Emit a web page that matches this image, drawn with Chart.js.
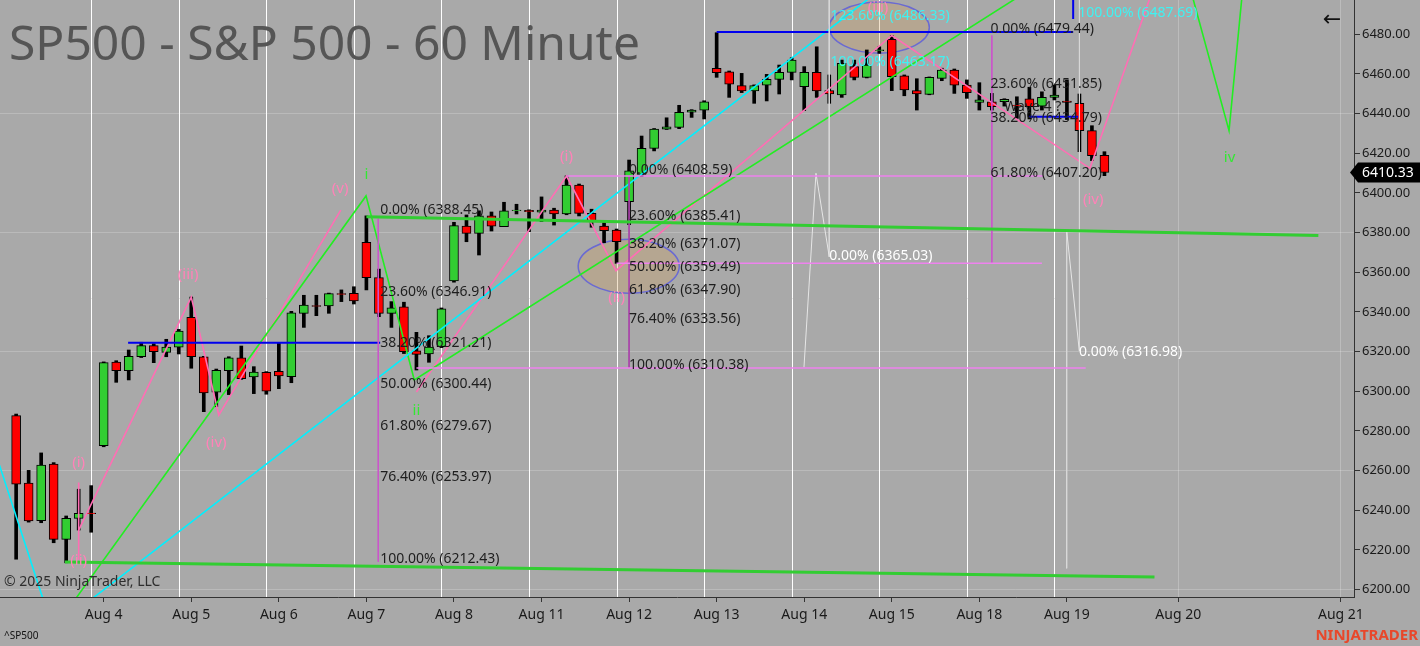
<!DOCTYPE html>
<html>
<head>
<meta charset="utf-8">
<script src="https://cdn.jsdelivr.net/npm/chart.js@4.4.1/dist/chart.umd.min.js"></script>
<style>
html, body { margin: 0; padding: 0; background: #a9a9a9; }
#wrap { width: 1420px; height: 646px; position: relative; }
</style>
</head>
<body>
<div id="wrap"><canvas id="chart"></canvas></div>
<script>
// hourly bars, index 0 = first bar of Aug 1
const barOpen = [6287.7,6253.7,6234.7,6263.3,6225.3,6235.9,6238.6, 6272.5,6314.7,6310.4,6317.4,6323.0,6319.6,6322.2,
  6337.3,6317.4,6299.5,6310.4,6316.9,6307.2,6309.6, 6310.1,6307.3,6339.3,6343.2,6343.0,6349.2,6349.4,
  6375.1,6357.3,6339.3,6342.6,6320.4,6318.8,6322.5, 6355.6,6383.3,6379.6,6388.5,6383.0,6391.0,6391.2,
  6390.3,6391.4,6389.4,6404.0,6389.7,6383.3,6381.3, 6395.6,6409.4,6422.5,6432.2,6433.1,6440.7,6441.8,
  6462.9,6461.1,6454.1,6451.4,6454.4,6457.3,6460.8, 6453.6,6460.8,6451.6,6449.4,6463.7,6458.3,6471.8,
  6477.5,6459.0,6451.6,6449.7,6457.8,6462.0,6454.4, 6445.7,6446.0,6446.0,6444.2,6447.4,6443.8,6448.2,
  6446.3,6445.2,6431.4,6419.0];
const barHigh = [6288.5,6260.1,6268.9,6264.0,6237.1,6250.6,6252.4, 6314.8,6315.4,6320.8,6324.7,6324.0,6326.2,6331.2,
  6347.5,6317.6,6311.2,6317.4,6322.8,6312.4,6309.9, 6324.2,6340.3,6348.4,6348.4,6349.5,6351.1,6352.7,
  6388.45,6361.6,6345.2,6344.9,6329.7,6328.0,6342.0, 6385.2,6388.9,6391.0,6390.4,6395.3,6394.3,6391.5,
  6398.0,6392.3,6408.6,6404.5,6391.8,6386.0,6381.8, 6416.6,6428.7,6432.5,6437.9,6444.2,6442.0,6446.5,
  6480.8,6461.5,6460.3,6454.5,6459.8,6464.5,6468.2, 6463.7,6473.7,6459.5,6467.0,6467.0,6472.1,6473.7,
  6479.44,6459.5,6457.6,6458.5,6462.9,6462.5,6457.0, 6455.6,6450.2,6447.5,6448.5,6453.3,6451.0,6454.4,
  6457.0,6449.9,6433.9,6420.8];
const barLow = [6215.3,6234.0,6233.7,6223.6,6213.5,6230.0,6228.9, 6272.0,6304.5,6305.7,6317.0,6314.4,6317.4,6318.8,
  6311.6,6289.7,6292.2,6298.3,6306.0,6298.8,6298.5, 6301.3,6304.3,6332.2,6338.1,6339.3,6345.2,6344.0,
  6351.1,6337.6,6332.2,6319.0,6310.7,6314.6,6322.0, 6355.0,6375.4,6368.7,6380.8,6383.0,6389.4,6380.5,
  6385.5,6383.8,6389.0,6388.4,6382.7,6374.9,6364.5, 6384.0,6408.2,6421.2,6432.0,6432.4,6438.1,6437.3,
  6458.3,6448.2,6450.6,6445.2,6446.4,6449.9,6457.0, 6441.5,6448.2,6445.2,6448.2,6457.0,6458.0,6470.4,
  6451.6,6449.0,6441.8,6449.5,6456.6,6450.2,6447.7, 6441.8,6441.8,6443.8,6437.6,6437.3,6441.8,6446.9,
  6437.0,6420.8,6416.3,6408.7];
const barClose = [6253.2,6234.6,6262.8,6225.3,6235.9,6238.4,6238.2, 6314.4,6310.4,6317.6,6323.0,6320.0,6322.3,6330.4,
  6317.4,6299.1,6310.6,6316.9,6306.3,6309.7,6300.0, 6307.7,6339.6,6343.5,6342.8,6349.2,6348.8,6345.5,
  6357.3,6339.3,6342.1,6319.9,6318.6,6322.3,6341.5, 6383.5,6379.6,6388.5,6383.3,6391.0,6391.4,6390.5,
  6391.4,6389.4,6404.0,6389.7,6386.0,6381.0,6375.4, 6411.2,6422.5,6432.2,6433.4,6440.7,6441.8,6446.0,
  6460.6,6454.9,6451.4,6454.1,6457.3,6460.8,6467.0, 6460.8,6451.4,6449.9,6465.4,6458.3,6464.5,6472.2,
  6458.6,6451.9,6449.9,6458.3,6462.0,6454.4,6450.6, 6446.9,6443.5,6447.2,6443.9,6443.5,6448.2,6449.4,
  6445.7,6431.4,6418.8,6410.33];

const tickIdx = [7,14,21,28,35,42,49,56,63,70,77,84,92.9,105.9];
const tickLabels = ['Aug 4','Aug 5','Aug 6','Aug 7','Aug 8','Aug 11','Aug 12','Aug 13','Aug 14','Aug 15','Aug 18','Aug 19','Aug 20','Aug 21'];
const sessionEnds = [6,13,20,27,34,41,48,55,62,69,76,83];
const yTicks = [6200,6220,6240,6260,6280,6300,6320,6340,6360,6380,6400,6420,6440,6460,6480];
const yGridLevels = [6200,6260,6320,6380,6440];

// fibonacci tools
const fibPcts = [0, 23.6, 38.2, 50, 61.8, 76.4, 100];
const fibA = [6388.45, 6346.91, 6321.21, 6300.44, 6279.67, 6253.97, 6212.43];
const fibB = [6408.59, 6385.41, 6371.07, 6359.49, 6347.90, 6333.56, 6310.38];
const fibCPcts = [0, 23.6, 38.2, 61.8];
const fibC = [6479.44, 6451.85, 6434.79, 6407.20];
const extPcts = [123.6, 100, 100];
const extLevels = [6486.33, 6463.17, 6487.69];
const extIdx = [65.1, 65.1, 84.9];
const zeroLevels = [6365.03, 6316.98];
const zeroIdx = [65.0, 84.96];

// elliott wave labels
const pinkWaveText = ['(i)','(ii)','(iii)','(iv)','(v)','(i)','(ii)','(iii)','(iv)'];
const pinkWaveIdx = [5.0, 5.0, 13.75, 16.0, 25.9, 44.0, 48.0, 68.9, 86.1];
const pinkWaveVal = [6263.9, 6214.4, 6358.6, 6273.9, 6402.0, 6418.2, 6347.1, 6493.3, 6396.4];
const greenWaveText = ['i','ii','iv'];
const greenWaveIdx = [28, 32, 97];
const greenWaveVal = [6409.0, 6290.1, 6417.6];

// drawn lines [bar index, price]
const pinkWave1 = [[5,6230],[14,6347.5],[16.2,6288],[25.95,6391.3]];
const pinkTick = [[5,6254],[5,6215]];
const pinkWave2 = [[32,6299.6],[44,6408.5],[47.95,6360.8],[70,6479.4],[85.84,6412.4],[91.4,6512]];
const greenWave1 = [[4.1,6189.6],[27.97,6398.5],[31.83,6305.7],[82.9,6510]];
const greenWave2 = [[93.56,6510],[96.96,6431.4],[98.16,6510]];
const cyanLine1 = [[-1.69,6269.7],[2.44,6189.6]];
const cyanLine2 = [[4.89,6189.6],[70.6,6509.9]];
const greenTrendTop = [[28,6388.0],[104.1,6378.5]];
const greenTrendBottom = [[3.9,6213.9],[91.0,6206.3]];
const blueLine1 = [[8.95,6324.4],[29.1,6324.4]];
const blueLine2 = [[56,6481.2],[84.5,6481.2]];
const blueLine3 = [[84.5,6500],[84.5,6487.7]];
const blueLine4 = [[81.0,6438.4],[84.9,6438.4]];
const violet1 = [[44,6408.5],[82.1,6408.5]];
const violet2 = [[48,6364.5],[82.0,6364.5]];
const violet3 = [[32,6311.7],[85.5,6311.7]];
const violetV1 = [[28.95,6387],[28.95,6214]];
const violetV2 = [[49.0,6408.6],[49.0,6311.7]];
const violetV3 = [[78.0,6479.4],[78.0,6364.5]];
const grayZig1 = [[62.98,6312.1],[63.94,6409.9],[65.0,6367.8]];
const grayV1 = [[65.0,6500],[65.0,6367.8]];
const grayZig2 = [[83.98,6381],[84.99,6320.4]];
const grayV2 = [[83.98,6381],[83.98,6210.7]];
const grayV3 = [[85.0,6500],[85.0,6320.4]];

// ellipses: center idx, center price, radius idx, radius price
const ellipseIdx = [48.97, 69.0];
const ellipseVal = [6363.0, 6483.4];
const ellipseRIdx = [4.04, 4.0];
const ellipseRVal = [13.6, 12.9];

const FONT = '"Noto Sans", "Open Sans", sans-serif';

function lineSet(points, color, width) {
  return {
    type: 'line',
    data: points.map(p => ({ x: p[0], y: p[1] })),
    borderColor: color,
    borderWidth: width,
    pointRadius: 0,
    fill: false,
    tension: 0,
    order: 0
  };
}

const overlay = {
  id: 'ntOverlay',
  beforeDatasetsDraw(chart) {
    const { ctx, chartArea: a, scales: { x, y } } = chart;
    ctx.save();
    ctx.beginPath();
    ctx.rect(a.left, a.top, a.right - a.left, a.bottom - a.top);
    ctx.clip();
    // session separators
    ctx.strokeStyle = '#ffffff';
    ctx.lineWidth = 1;
    sessionEnds.forEach(i => {
      const px = Math.round(x.getPixelForValue(i)) + 0.5;
      ctx.beginPath();
      ctx.moveTo(px, a.top);
      ctx.lineTo(px, a.bottom);
      ctx.stroke();
    });
    // title
    ctx.fillStyle = '#555555';
    ctx.font = '48px ' + FONT;
    ctx.textBaseline = 'middle';
    ctx.textAlign = 'left';
    ctx.fillText('SP500 - S&P 500 - 60 Minute', 9, 46);
    // ellipses
    ellipseIdx.forEach((ci, k) => {
      const cx = x.getPixelForValue(ci);
      const cy = y.getPixelForValue(ellipseVal[k]);
      const rx = Math.abs(x.getPixelForValue(ci + ellipseRIdx[k]) - cx);
      const ry = Math.abs(y.getPixelForValue(ellipseVal[k] + ellipseRVal[k]) - cy);
      ctx.beginPath();
      ctx.ellipse(cx, cy, rx, ry, 0, 0, Math.PI * 2);
      ctx.fillStyle = 'rgba(210,160,90,0.3)';
      ctx.fill();
      ctx.strokeStyle = '#6a6ad2';
      ctx.lineWidth = 1.5;
      ctx.stroke();
    });
    ctx.restore();
  },
  afterDatasetsDraw(chart) {
    const { ctx, scales: { x, y } } = chart;
    ctx.save();
    ctx.textAlign = 'left';
    ctx.textBaseline = 'middle';
    ctx.font = '14px ' + FONT;
    const fibText = (p, v) => p.toFixed(2) + '% (' + v.toFixed(2) + ')';
    const put = (txt, idx, val, color) => {
      ctx.fillStyle = color;
      ctx.fillText(txt, x.getPixelForValue(idx), y.getPixelForValue(val) - 6);
    };
    fibA.forEach((v, k) => put(fibText(fibPcts[k], v), 29.1, v, '#1e1e1e'));
    fibB.forEach((v, k) => put(fibText(fibPcts[k], v), 49.0, v, '#1e1e1e'));
    fibC.forEach((v, k) => put(fibText(fibCPcts[k], v), 77.9, v, '#1e1e1e'));
    extLevels.forEach((v, k) => put(fibText(extPcts[k], v), extIdx[k], v, '#3ff2f2'));
    zeroLevels.forEach((v, k) => put(fibText(0, v), zeroIdx[k], v, '#ffffff'));
    ctx.fillStyle = '#1e1e1e';
    ctx.fillText('Wave 4 ?', x.getPixelForValue(79.0), y.getPixelForValue(6443.5));

    ctx.textAlign = 'center';
    ctx.font = '15px ' + FONT;
    ctx.fillStyle = '#ff82b8';
    pinkWaveText.forEach((t, k) => ctx.fillText(t, x.getPixelForValue(pinkWaveIdx[k]), y.getPixelForValue(pinkWaveVal[k])));
    ctx.fillStyle = '#33e833';
    greenWaveText.forEach((t, k) => ctx.fillText(t, x.getPixelForValue(greenWaveIdx[k]), y.getPixelForValue(greenWaveVal[k])));
    ctx.restore();
  },
  afterDraw(chart) {
    const { ctx, chartArea: a, scales: { y } } = chart;
    ctx.save();
    ctx.textBaseline = 'middle';
    ctx.textAlign = 'left';
    ctx.fillStyle = '#2e2e2e';
    ctx.font = '14px ' + FONT;
    ctx.fillText('\u00a9 2025 NinjaTrader, LLC', 4, 582);
    ctx.fillStyle = '#111111';
    ctx.font = '10px ' + FONT;
    ctx.fillText('^SP500', 4, 636);
    ctx.textAlign = 'right';
    ctx.fillStyle = '#e8472a';
    ctx.font = 'bold 15px ' + FONT;
    ctx.fillText('NINJATRADER', 1418, 636);
    // back arrow
    ctx.textAlign = 'center';
    ctx.fillStyle = '#111111';
    ctx.font = '22px "DejaVu Sans", sans-serif';
    ctx.fillText('\u2190', 1332, 20);
    // last price marker
    const last = barClose[barClose.length - 1];
    const py = y.getPixelForValue(last);
    ctx.fillStyle = '#000000';
    ctx.beginPath();
    ctx.moveTo(a.right - 4, py);
    ctx.lineTo(a.right + 4, py - 10);
    ctx.lineTo(1420, py - 10);
    ctx.lineTo(1420, py + 10);
    ctx.lineTo(a.right + 4, py + 10);
    ctx.closePath();
    ctx.fill();
    ctx.fillStyle = '#ffffff';
    ctx.textAlign = 'left';
    ctx.font = '14px ' + FONT;
    ctx.fillText(last.toFixed(2), 1362, py + 0.5);
    ctx.restore();
  }
};

const wickData = barHigh.map((h, i) => ({ x: i, y: [barLow[i], h] }));
const bodyData = barOpen.map((o, i) => {
  let c = barClose[i];
  if (Math.abs(c - o) < 0.3) c = o + (c >= o ? 0.3 : -0.3);
  return { x: i, y: [o, c] };
});
const bodyColors = barOpen.map((o, i) => barClose[i] >= o ? '#32cd32' : '#ff0000');

new Chart(document.getElementById('chart'), {
  type: 'bar',
  data: {
    datasets: [
      { data: wickData, backgroundColor: '#000000', borderWidth: 0, barThickness: 3, grouped: false, order: 3 },
      { data: bodyData, backgroundColor: bodyColors, borderColor: '#000000', borderWidth: 1, borderSkipped: false, barThickness: 9, grouped: false, order: 2 },
      lineSet(greenTrendTop, '#32cd32', 3),
      lineSet(greenTrendBottom, '#32cd32', 3),
      lineSet(violet1, '#ee82ee', 1.5),
      lineSet(violet2, '#ee82ee', 1.5),
      lineSet(violet3, '#ee82ee', 1.5),
      lineSet(violetV1, '#cc55cc', 1),
      lineSet(violetV2, '#aa44aa', 1),
      lineSet(violetV3, '#cc55cc', 1),
      lineSet(grayZig1, '#e6e6e6', 1),
      lineSet(grayV1, '#d8d8d8', 1),
      lineSet(grayZig2, '#e6e6e6', 1),
      lineSet(grayV2, '#d8d8d8', 1),
      lineSet(grayV3, '#d8d8d8', 1),
      lineSet(blueLine1, '#0000ee', 2),
      lineSet(blueLine2, '#0000ee', 2),
      lineSet(blueLine3, '#0000ee', 2),
      lineSet(blueLine4, '#0000ee', 2),
      lineSet(cyanLine1, '#00f0ff', 1.6),
      lineSet(cyanLine2, '#00f0ff', 1.6),
      lineSet(greenWave1, '#22ee22', 1.6),
      lineSet(greenWave2, '#22ee22', 1.6),
      lineSet(pinkWave1, '#ff6eb4', 1.6),
      lineSet(pinkTick, '#ff6eb4', 1.6),
      lineSet(pinkWave2, '#ff6eb4', 1.6)
    ]
  },
  options: {
    responsive: true,
    maintainAspectRatio: false,
    animation: false,
    events: [],
    layout: { padding: 0 },
    plugins: { legend: { display: false }, tooltip: { enabled: false } },
    scales: {
      x: {
        type: 'linear',
        offset: false,
        min: -1.29,
        max: 106.95,
        afterFit(s) {
          s.height = 49;
          s.paddingLeft = 0; s.paddingRight = 0; s.paddingTop = 0; s.paddingBottom = 0;
        },
        afterBuildTicks(s) { s.ticks = tickIdx.map(v => ({ value: v })); },
        ticks: {
          autoSkip: false,
          maxRotation: 0,
          padding: 5,
          color: '#1a1a1a',
          font: { family: FONT, size: 14 },
          callback: (v, i) => tickLabels[i]
        },
        grid: {
          offset: false,
          color: ctx => (ctx.tick && ctx.tick.value > 90) ? 'rgba(255,255,255,0.22)' : 'rgba(0,0,0,0)',
          tickColor: '#333333',
          tickLength: 5
        },
        border: { display: true, color: '#333333', width: 1 }
      },
      y: {
        position: 'right',
        min: 6196.24,
        max: 6497.3,
        afterFit(s) {
          s.width = 66;
          s.paddingLeft = 0; s.paddingRight = 0; s.paddingTop = 0; s.paddingBottom = 0;
        },
        afterBuildTicks(s) { s.ticks = yTicks.map(v => ({ value: v })); },
        ticks: {
          padding: 2,
          color: '#1a1a1a',
          font: { family: FONT, size: 13 },
          callback: v => v.toFixed(2)
        },
        grid: {
          color: ctx => (ctx.tick && yGridLevels.includes(ctx.tick.value)) ? 'rgba(255,255,255,0.2)' : 'rgba(0,0,0,0)',
          tickColor: '#333333',
          tickLength: 6
        },
        border: { display: true, color: '#333333', width: 1 }
      }
    }
  },
  plugins: [overlay]
});
</script>
</body>
</html>
